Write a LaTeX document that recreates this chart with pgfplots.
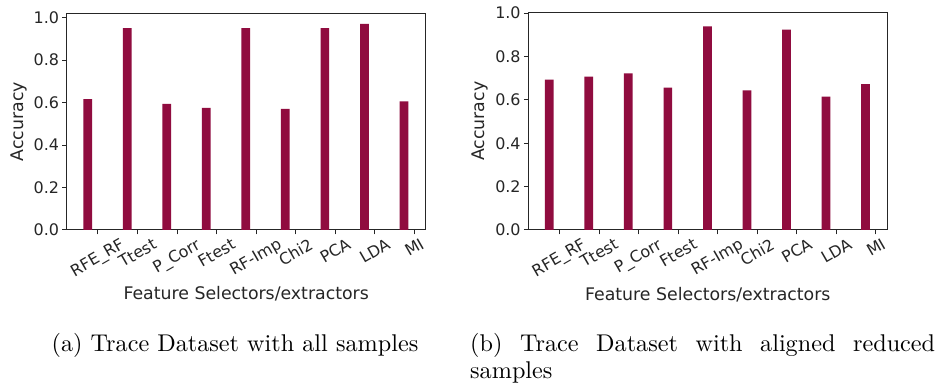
\documentclass[border=0pt]{standalone}
\usepackage{fontspec}
\usepackage{pgfplots}
\pgfplotsset{compat=1.18}
\newfontfamily\djv{DejaVu Sans}
\newfontfamily\capfont{lmroman10-regular.otf}
\definecolor{barc}{HTML}{900C3F}
\pgfplotsset{
  mystyle/.style={
    scale only axis, width=359bp, anchor=south west,
    xmin=-0.79, xmax=8.29, ymin=0,
    axis line style={line width=1bp, black!85},
    tick align=outside, tick pos=left,
    major tick length=4.5bp,
    every tick/.style={black!85, line width=1bp},
    xtick={0,...,8},
    xticklabels={\rotatebox{30}{RFE\_RF},\rotatebox{30}{Ttest},\rotatebox{30}{P\_Corr},\rotatebox{30}{Ftest},\rotatebox{30}{RF-Imp},\rotatebox{30}{Chi2},\rotatebox{30}{PCA},\rotatebox{30}{LDA},\rotatebox{30}{MI}},
    xticklabel style={font=\djv\fontsize{16}{16}\selectfont, anchor=north, inner sep=0pt, yshift=-3bp, text=black!85},
    ytick={0,0.2,0.4,0.6,0.8,1.0},
    yticklabel style={font=\djv\fontsize{16}{16}\selectfont, inner sep=0pt, anchor=east, xshift=-3bp, text=black!85,
      /pgf/number format/.cd, fixed, fixed zerofill, precision=1, assume math mode=true},
    ylabel={Accuracy}, xlabel={Feature Selectors/extractors},
    label style={font=\djv\fontsize{17.4}{17.4}\selectfont, inner sep=0pt, text=black!85},
    ylabel style={at={(axis description cs:-0.134,0.5)}, anchor=center},
    xlabel style={at={(axis description cs:0.5,-0.322)}, anchor=base},
  }
}
\begin{document}
\begin{tikzpicture}
\fill[white] (0,0) rectangle (935bp,385bp);
\path[use as bounding box] (0,0) rectangle (935bp,385bp);
\begin{axis}[mystyle, at={(66.7bp,155bp)}, height=216.5bp, ymax=1.019]
\addplot[ybar, bar width=0.22, bar shift=-0.26, fill=barc, draw=none] coordinates {
(0,0.616) (1,0.950) (2,0.594) (3,0.575) (4,0.950) (5,0.570) (6,0.950) (7,0.970) (8,0.605)};
\end{axis}
\begin{axis}[mystyle, at={(528.3bp,155bp)}, height=217.5bp, ymax=1.003]
\addplot[ybar, bar width=0.22, bar shift=-0.26, fill=barc, draw=none] coordinates {
(0,0.693) (1,0.707) (2,0.722) (3,0.657) (4,0.939) (5,0.644) (6,0.924) (7,0.615) (8,0.673)};
\end{axis}
\node[anchor=base, inner sep=0pt] at (235bp,33.5bp) {\capfont\fontsize{24.3}{27}\selectfont (a) Trace Dataset with all samples};
\node[anchor=base west, inner sep=0pt] at (470bp,33.5bp) {\parbox[t]{465bp}{\capfont\fontsize{24.3}{27}\selectfont (b) Trace Dataset with aligned reduced\linebreak samples}};
\end{tikzpicture}
\end{document}
